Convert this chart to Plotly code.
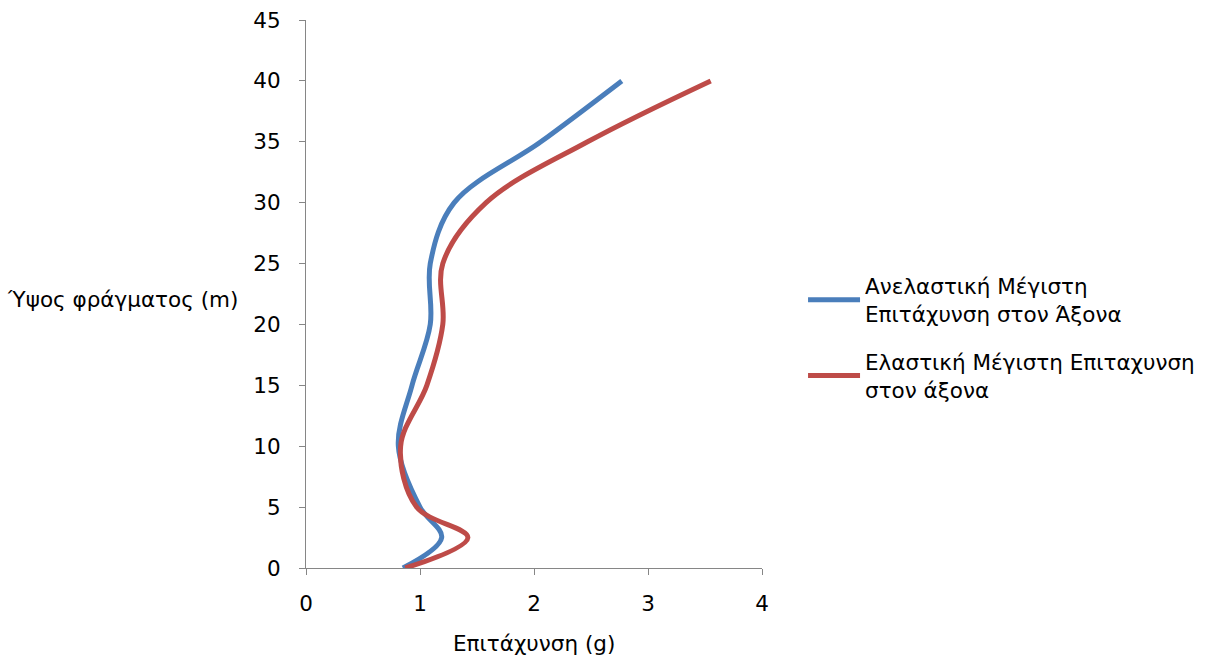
import plotly.graph_objects as go

# Dam height (m) at which peak axial acceleration was recorded
heights = [0, 2.5, 5, 10, 15, 20, 25, 30, 35, 40]
# Peak acceleration (g) — inelastic and elastic analyses
inelastic = [0.85, 1.19, 1.00, 0.81, 0.93, 1.09, 1.09, 1.30, 2.06, 2.77]
elastic = [0.87, 1.42, 0.97, 0.83, 1.06, 1.20, 1.20, 1.58, 2.47, 3.55]

names = [
    "Ανελαστική Μέγιστη<br>Επιτάχυνση στον Άξονα",
    "Ελαστική Μέγιστη Επιταχυνση<br>στον άξονα",
]
colors = ["#4A7EBB", "#BE4B48"]

FONT = "DejaVu Sans"
FSIZE = 21.5

fig = go.Figure()
for i, (name, vals, col) in enumerate(zip(names, [inelastic, elastic], colors)):
    fig.add_trace(go.Scatter(
        x=vals, y=heights, name=name, mode="lines", legendgroup=f"g{i}",
        line=dict(color=col, width=5, shape="spline", smoothing=1.0),
    ))

axis_common = dict(
    showgrid=False, zeroline=False, showline=True, linecolor="#868686",
    linewidth=1, ticks="outside", ticklen=6, tickcolor="#868686",
    tickfont=dict(family=FONT, size=FSIZE, color="#000000"),
    automargin=False,
)

fig.update_layout(
    width=1205, height=659,
    margin=dict(l=306, r=443, t=20, b=91, autoexpand=False),
    plot_bgcolor="white", paper_bgcolor="white",
    xaxis=dict(range=[0, 4], dtick=1, ticklabelstandoff=10, **axis_common),
    yaxis=dict(range=[0, 45], dtick=5, ticklabelstandoff=14, **axis_common),
    legend=dict(
        x=1.09, y=0.5525, xanchor="left", yanchor="top",
        font=dict(family=FONT, size=FSIZE, color="#000000"),
        tracegroupgap=17, itemwidth=52,
    ),
    annotations=[
        dict(text="Επιτάχυνση (g)", xref="paper", yref="paper",
             x=0.5, y=-0.137, xanchor="center", yanchor="middle",
             showarrow=False, font=dict(family=FONT, size=FSIZE, color="#000000")),
        dict(text="Ύψος φράγματος (m)", xref="paper", yref="paper",
             x=-0.144, y=0.49, xanchor="right", yanchor="middle",
             showarrow=False, font=dict(family=FONT, size=FSIZE, color="#000000")),
    ],
)

fig.write_html("out.html")
